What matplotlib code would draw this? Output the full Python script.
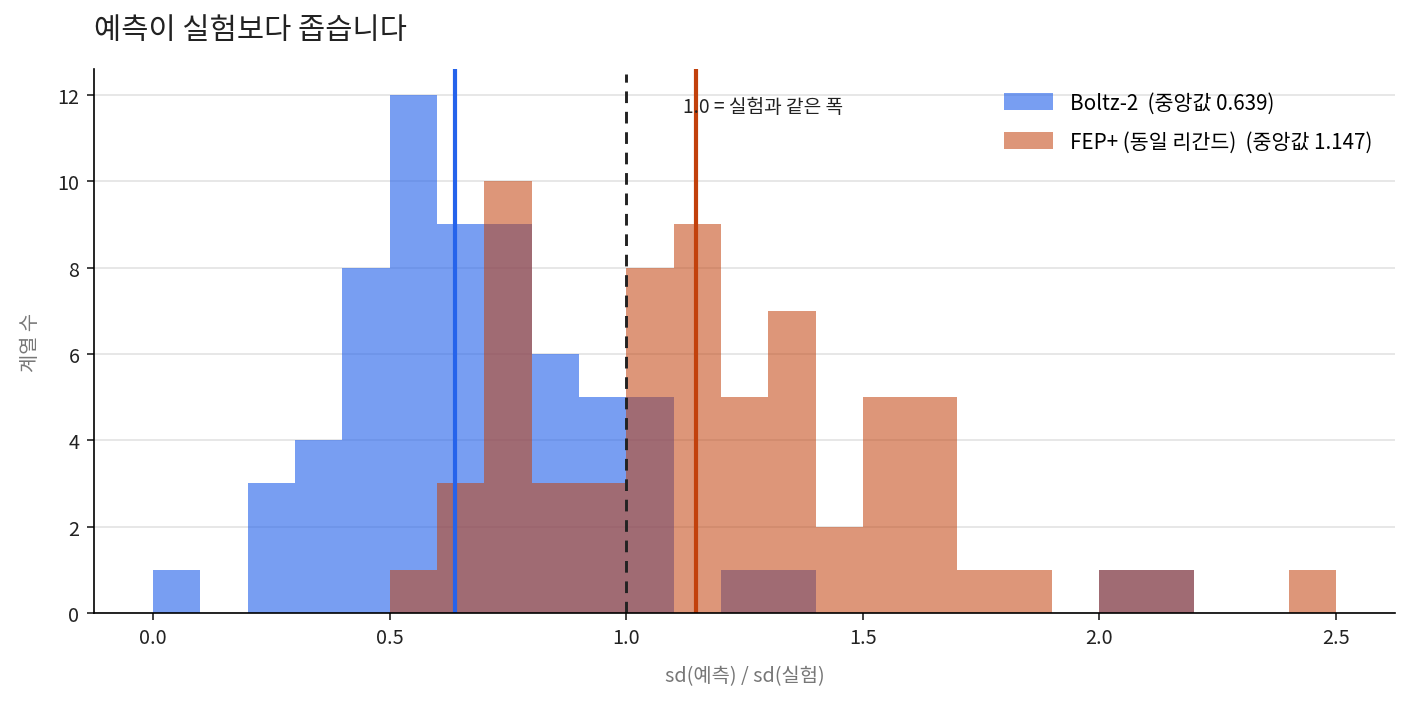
import numpy as np
import matplotlib.pyplot as plt

plt.rcParams['font.family'] = ['Noto Sans CJK KR', 'DejaVu Sans']

# 히스토그램 구간 (폭 0.1)
bin_edges = np.round(np.arange(0.0, 2.51, 0.1), 2)

# 구간별 계열 수
boltz_counts = [1, 0, 3, 4, 8, 12, 9, 9, 6, 5, 5, 0, 1, 1, 0, 0, 0, 0, 0, 0, 1, 1, 0, 0, 0]
fep_counts = [0, 0, 0, 0, 0, 1, 3, 10, 3, 3, 8, 9, 5, 7, 2, 5, 5, 1, 1, 0, 1, 1, 0, 0, 1]

boltz_median = 0.639
fep_median = 1.147

boltz_label = f"Boltz-2  (중앙값 {boltz_median:.3f})"
fep_label = f"FEP+ (동일 리간드)  (중앙값 {fep_median:.3f})"

blue = "#2563eb"
orange = "#c2410c"

fig, ax = plt.subplots(figsize=(9.4, 4.7533), dpi=150)

left = bin_edges[:-1]
ax.bar(left, boltz_counts, width=0.1, align="edge", color=blue, alpha=0.62,
       linewidth=0, label=boltz_label)
ax.bar(left, fep_counts, width=0.1, align="edge", color=orange, alpha=0.55,
       linewidth=0, label=fep_label)

ax.axvline(boltz_median, color=blue, lw=2)
ax.axvline(fep_median, color=orange, lw=2)
ax.axvline(1.0, ymax=0.99, color="#222222", lw=1.4, ls=(0, (4, 3)))
ax.text(1.12, 0.95, "1.0 = 실험과 같은 폭", transform=ax.get_xaxis_transform(),
        fontsize=9.2, va="top", ha="left", color="#222222")

ax.set_xlim(-0.125, 2.625)
ax.set_ylim(0, 12.6)
ax.set_yticks([0, 2, 4, 6, 8, 10, 12])
ax.set_xticks([0.0, 0.5, 1.0, 1.5, 2.0, 2.5])

ax.set_axisbelow(True)
ax.grid(axis="y", color="#e3e3e3", lw=0.8)
ax.spines["top"].set_visible(False)
ax.spines["right"].set_visible(False)
ax.tick_params(labelsize=9.5, colors="#222222")

ax.set_xlabel("sd(예측) / sd(실험)", fontsize=9.5, color="#777777", labelpad=8)
ax.set_ylabel("계열 수", fontsize=9.5, color="#777777", labelpad=8)
ax.set_title("예측이 실험보다 좁습니다", loc="left", fontsize=14.2, color="#222222", pad=15)

ax.legend(loc="upper right", frameon=False, fontsize=9.9, handlelength=2.4,
          handleheight=0.9, labelspacing=0.82, borderaxespad=0.7)

fig.subplots_adjust(left=0.0667, right=0.9894, top=0.9018, bottom=0.139)
fig.savefig("out.png", dpi=150)
